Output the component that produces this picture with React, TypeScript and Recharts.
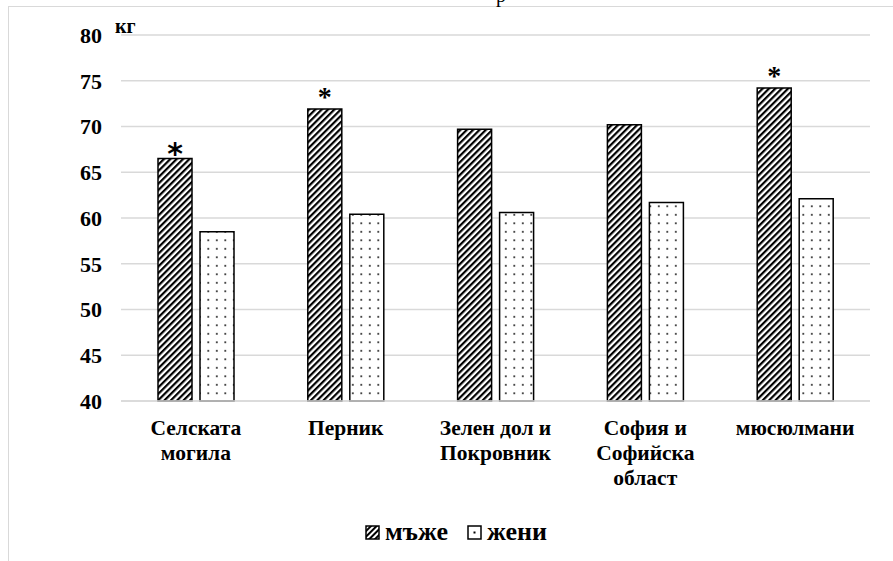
import { BarChart, Bar, XAxis, YAxis, CartesianGrid, Legend, LabelList } from "recharts"

const categories = ["Селската\nмогила", "Перник", "Зелен дол и\nПокровник", "София и\nСофийска\nобласт", "мюсюлмани"]
const men = [66.5, 71.9, 69.7, 70.2, 74.2]
const women = [58.5, 60.4, 60.6, 61.7, 62.1]
const marks = ["*", "*", "", "", "*"]
const yTicks = [40, 45, 50, 55, 60, 65, 70, 75, 80]

const data = categories.map((name, i) => ({ name, men: men[i], women: women[i], mark: marks[i] }))

const FONT = '"Liberation Serif", "Times New Roman", serif'

function XTick(props: any) {
  const { x, y, payload } = props
  const lines = String(payload.value).split("\n")
  return (
    <text x={x} y={y} textAnchor="middle" fontFamily={FONT} fontWeight="bold" fontSize={21.5} fill="#000">
      {lines.map((l: string, i: number) => (
        <tspan key={i} x={x} dy={i === 0 ? 34 : 25}>{l}</tspan>
      ))}
    </text>
  )
}

function Star(props: any) {
  const { x, y, width, value, index } = props
  if (!value) return null
  const big = index === 0
  return (
    <text
      x={x + width / 2}
      y={y + (big ? 5 : -3)}
      textAnchor="middle"
      fontFamily={big ? '"DejaVu Sans", sans-serif' : FONT}
      fontWeight="bold"
      fontSize={big ? 30 : 28}
      fill="#000"
    >
      {value}
    </text>
  )
}

function LegendContent() {
  const item = (fill: string, text: string) => (
    <span style={{ display: "inline-flex", alignItems: "center", marginRight: 19 }}>
      <svg width={15} height={15} style={{ marginRight: 5 }}>
        <rect x={1} y={1} width={13} height={13} fill={fill} stroke="#000" strokeWidth={1.5} />
      </svg>
      {text}
    </span>
  )
  return (
    <div style={{ display: "flex", justifyContent: "center", height: 30, lineHeight: "30px", fontFamily: FONT, fontWeight: "bold", fontSize: 26, color: "#000", paddingRight: 0 }}>
      {item("url(#hatchSmall)", "мъже")}
      {item("url(#dotSmall)", "жени")}
    </div>
  )
}

export default function App() {
  return (
    <div style={{ position: "absolute", left: 8, top: 6, width: 885, height: 555, borderTop: "1px solid #d9d9d9", borderLeft: "1px solid #d9d9d9", boxSizing: "border-box", background: "#fff" }}>
      <div style={{ position: "absolute", left: 487, top: -23, fontFamily: FONT, fontSize: 20, color: "#000" }}>р</div>
      <BarChart width={884} height={554} data={data} margin={{ top: 28, right: 23, left: 52, bottom: 0 }} barSize={34} barGap={8}>
        <defs>
          <pattern id="hatch" patternUnits="userSpaceOnUse" width={4.5} height={4.5} patternTransform="rotate(45)">
            <rect width={4.5} height={4.5} fill="#fff" />
            <line x1={0} y1={0} x2={0} y2={4.5} stroke="#000" strokeWidth={4.4} />
          </pattern>
          <pattern id="hatchSmall" patternUnits="userSpaceOnUse" width={4} height={4} patternTransform="rotate(45)">
            <rect width={4} height={4} fill="#fff" />
            <line x1={0} y1={0} x2={0} y2={4} stroke="#000" strokeWidth={4} />
          </pattern>
          <pattern id="dots" patternUnits="userSpaceOnUse" width={8.5} height={8.5}>
            <rect width={8.5} height={8.5} fill="#fff" />
            <rect x={3} y={3} width={1.6} height={1.6} fill="#000" />
          </pattern>
          <pattern id="dotSmall" patternUnits="userSpaceOnUse" width={15} height={15}>
            <rect width={15} height={15} fill="#fff" />
            <rect x={6.5} y={6.5} width={2} height={2} fill="#000" />
          </pattern>
        </defs>
        <CartesianGrid vertical={false} stroke="#d9d9d9" strokeWidth={1.5} />
        <XAxis dataKey="name" interval={0} height={130} tickLine={false} tickSize={0} tickMargin={0} axisLine={{ stroke: "#d9d9d9", strokeWidth: 1.5 }} tick={<XTick />} />
        <YAxis
          domain={[40, 80]}
          ticks={yTicks}
          width={60}
          axisLine={false}
          tickLine={false}
          tickSize={0}
          tickMargin={19}
          tick={{ fontFamily: FONT, fontWeight: "bold", fontSize: 22, fill: "#000" }}
          label={(p: any) => {
            const vb = p.viewBox
            return (
              <text x={vb.x + vb.width - 6} y={vb.y - 2} fontFamily={FONT} fontWeight="bold" fontSize={20} fill="#000">кг</text>
            )
          }}
        />
        <Legend verticalAlign="bottom" wrapperStyle={{ bottom: 14 }} content={<LegendContent />} />
        <Bar dataKey="men" name="мъже" fill="url(#hatch)" stroke="#000" strokeWidth={1.5} isAnimationActive={false}>
          <LabelList dataKey="mark" content={<Star />} />
        </Bar>
        <Bar dataKey="women" name="жени" fill="url(#dots)" stroke="#000" strokeWidth={1.5} isAnimationActive={false} />
      </BarChart>
    </div>
  )
}
